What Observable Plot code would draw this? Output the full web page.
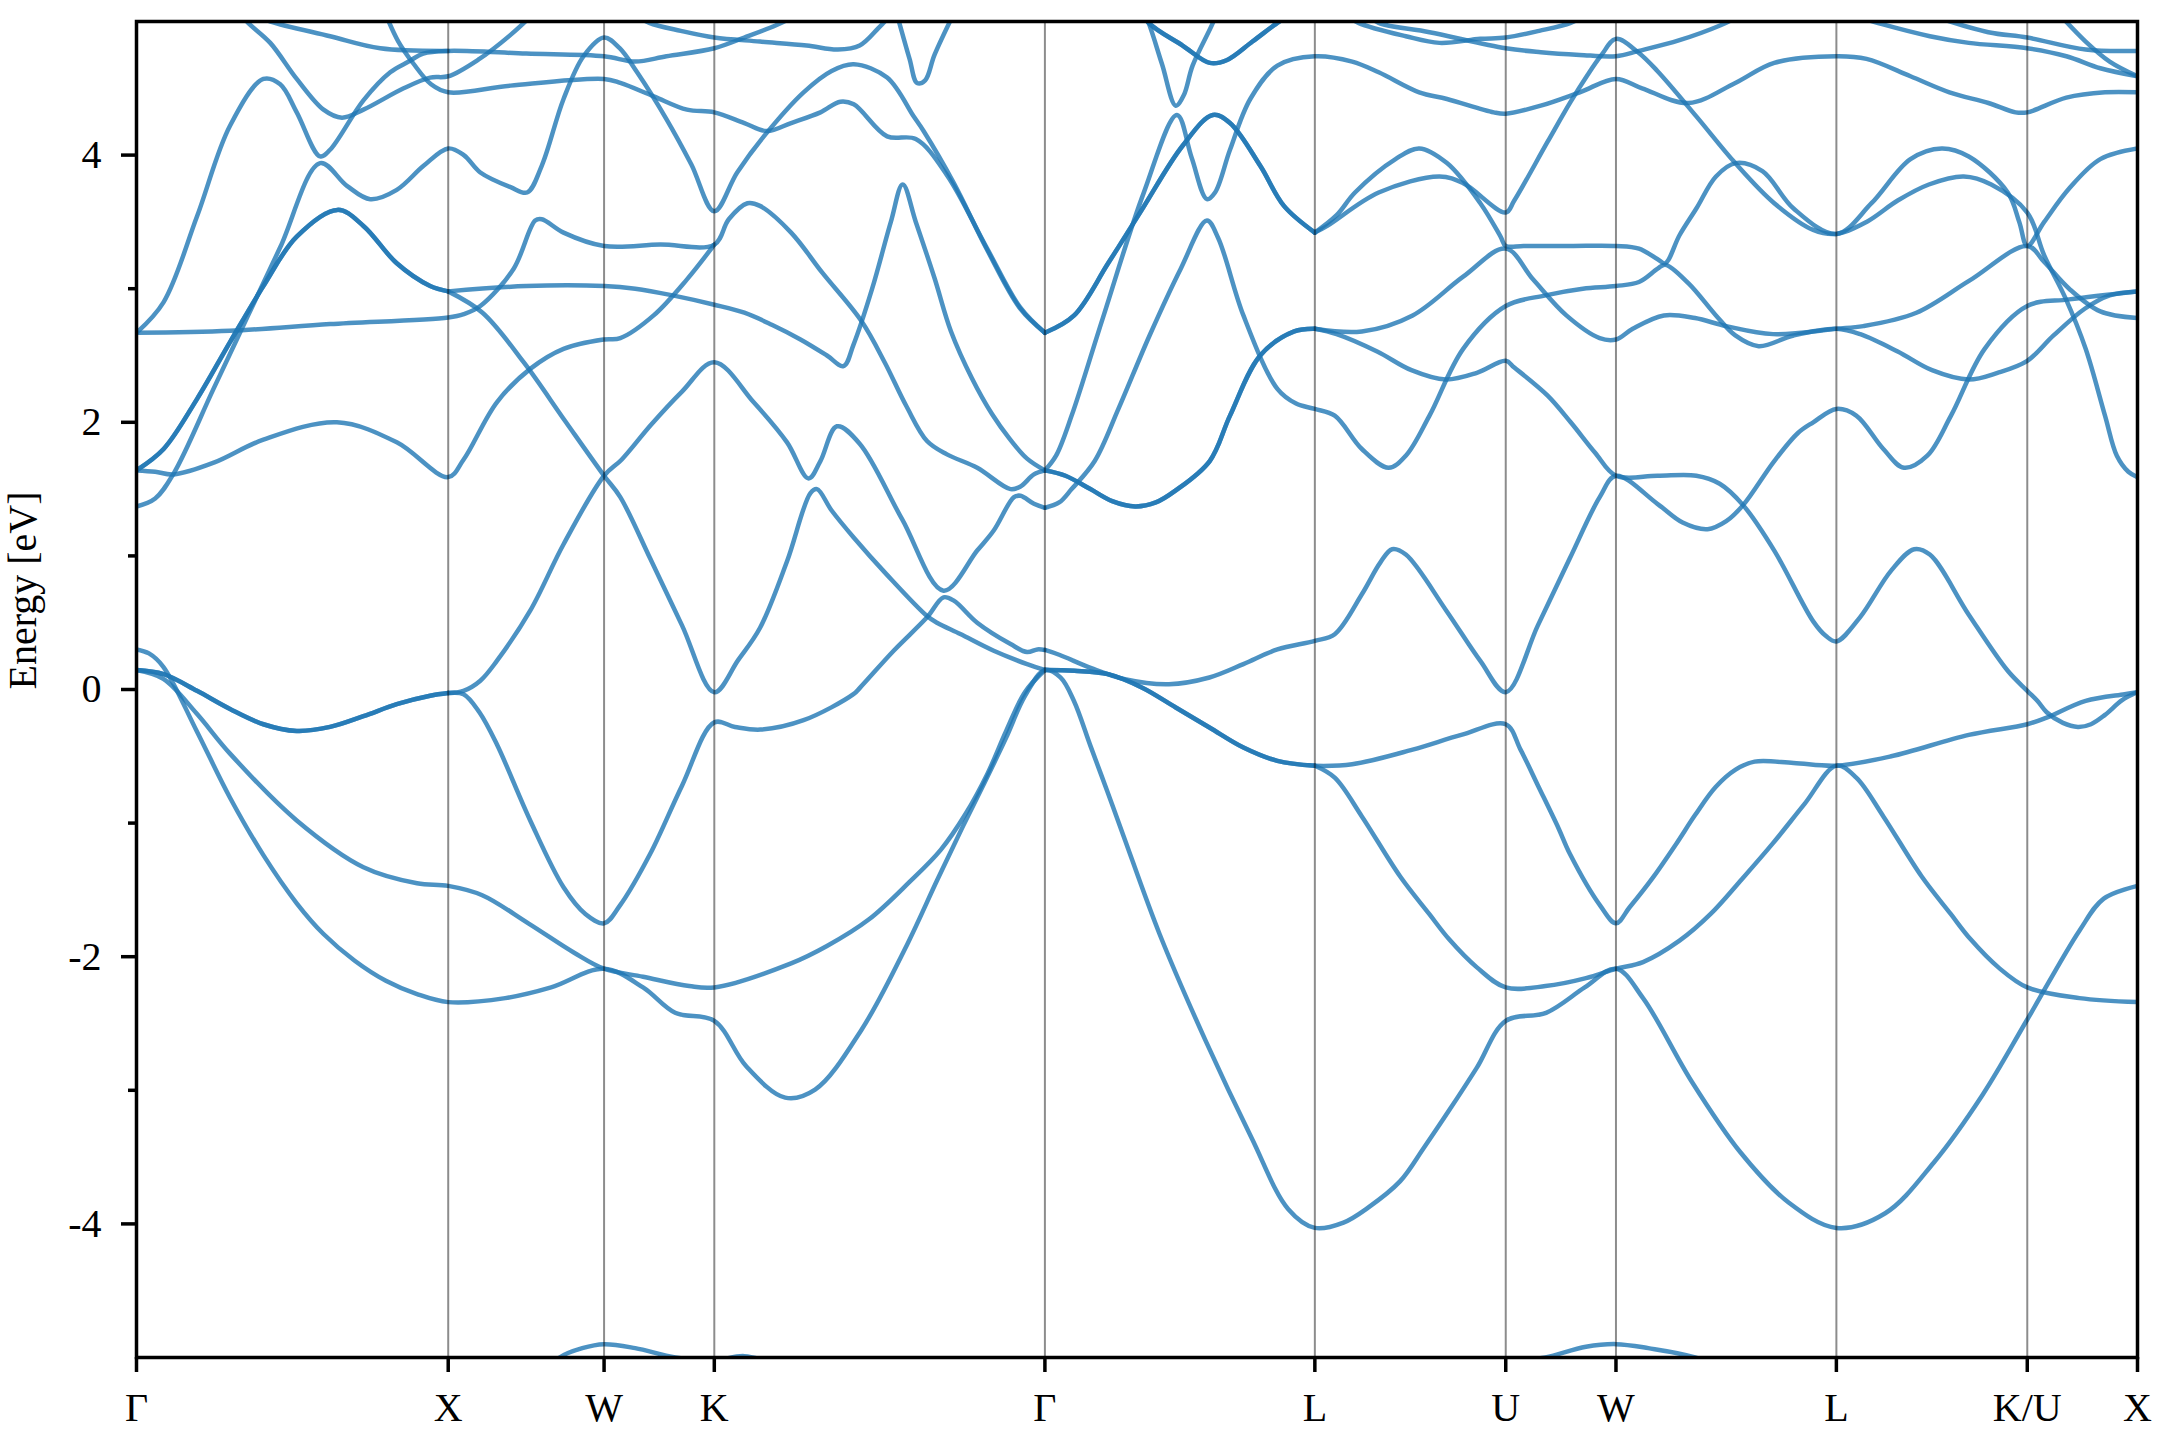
<!DOCTYPE html>
<html><head><meta charset="utf-8">
<script src="https://cdn.jsdelivr.net/npm/d3@7"></script>
<script src="https://cdn.jsdelivr.net/npm/@observablehq/plot@0.6"></script>
<style>
html,body{margin:0;padding:0;background:#fff;}
#chart{width:2160px;height:1440px;}
</style></head><body><div id="chart"></div>
<script>
// High-symmetry path (cumulative k-distance) and labels
const kLabels = ["Γ","X","W","K","Γ","L","U","W","L","K/U","X"];
const kTicks  = [0,1.0,1.5,1.8536,2.9142,3.7802,4.3926,4.7462,5.4533,6.0657,6.4193];
const yMajor = [-4,-2,0,2,4];
const yMinor = [-3,-1,1,3];

// Bands: [k, energy (eV)]
const L1 = [[0,0.30],[0.04,0.27],[0.086,0.17],[0.193,-0.31],[0.30,-0.81],[0.407,-1.24],[0.514,-1.60],[0.60,-1.83],[0.70,-2.03],[0.80,-2.18],[0.9,-2.28],[1.0,-2.34],[1.183,-2.31],[1.33,-2.23],[1.5,-2.09],[1.625,-2.23],[1.728,-2.42],[1.8536,-2.48],[1.956,-2.82],[2.081,-3.055],[2.177,-2.995],[2.325,-2.55],[2.472,-1.91],[2.568,-1.43],[2.65,-1.03],[2.72,-0.70],[2.79,-0.36],[2.85,-0.05],[2.9142,0.146],[2.964,0.09],[3.007,-0.084],[3.06,-0.42],[3.114,-0.76],[3.167,-1.1],[3.282,-1.83],[3.43,-2.63],[3.577,-3.355],[3.695,-3.89],[3.7802,-4.03],[3.872,-3.99],[3.95,-3.88],[4.054,-3.68],[4.13,-3.43],[4.211,-3.15],[4.3,-2.83],[4.3926,-2.48],[4.522,-2.42],[4.646,-2.23],[4.7462,-2.09],[4.833,-2.31],[4.988,-2.93],[5.144,-3.46],[5.3,-3.84],[5.4533,-4.03],[5.61,-3.92],[5.766,-3.54],[5.922,-3.035],[6.0657,-2.47],[6.233,-1.805],[6.311,-1.565],[6.4193,-1.47]];
const L2 = [[0,0.146],[0.086,0.08],[0.193,-0.18],[0.30,-0.48],[0.514,-0.98],[0.728,-1.33],[0.9,-1.45],[1.0,-1.47],[1.109,-1.54],[1.257,-1.75],[1.404,-1.97],[1.5,-2.09],[1.625,-2.15],[1.773,-2.22],[1.8536,-2.23],[2.1,-2.05],[2.215,-1.92],[2.35,-1.72],[2.48,-1.44],[2.58,-1.2],[2.66,-0.93],[2.73,-0.63],[2.79,-0.31],[2.85,-0.02],[2.9142,0.146]];
const dipGX = [[0,0.146],[0.087,0.115],[0.194,-0.01],[0.30,-0.146],[0.407,-0.26],[0.514,-0.31],[0.621,-0.28],[0.728,-0.20],[0.835,-0.11],[0.942,-0.047],[1.0,-0.027]];
const L3a = [[1.0,-0.027],[1.049,-0.01],[1.103,0.066],[1.156,0.214],[1.263,0.59],[1.37,1.087],[1.5,1.60],[1.556,1.72],[1.65,1.98],[1.75,2.23],[1.8536,2.45],[1.98,2.15],[2.087,1.85],[2.156,1.58],[2.194,1.71],[2.247,1.97],[2.32,1.84],[2.456,1.275],[2.589,0.74],[2.697,1.04],[2.75,1.19],[2.815,1.44],[2.836,1.45],[2.879,1.39],[2.9142,1.36]];
const L3b = [[1.0,-0.027],[1.049,-0.035],[1.1,-0.17],[1.156,-0.41],[1.263,-0.98],[1.37,-1.48],[1.44,-1.68],[1.5,-1.75],[1.55,-1.62],[1.648,-1.23],[1.75,-0.72],[1.8536,-0.246],[1.92,-0.28],[2.001,-0.30],[2.14,-0.23],[2.30,-0.035],[2.322,0.016],[2.429,0.29],[2.536,0.54],[2.589,0.69],[2.622,0.665],[2.697,0.50],[2.804,0.34],[2.857,0.28],[2.89,0.30],[2.9142,0.296]];
const Qb = [[1.0,2.98],[1.11,2.82],[1.242,2.45],[1.375,2.01],[1.5,1.60],[1.552,1.44],[1.648,0.98],[1.75,0.48],[1.8536,-0.02],[1.93,0.22],[2.0,0.46],[2.087,0.96],[2.162,1.47],[2.183,1.50],[2.23,1.34],[2.30,1.14],[2.407,0.86],[2.536,0.55],[2.568,0.50],[2.643,0.415],[2.75,0.29],[2.857,0.19],[2.9142,0.146]];
const Tb = [[0,1.64],[0.087,1.80],[0.193,2.17],[0.30,2.60],[0.407,3.02],[0.514,3.39],[0.645,3.59],[0.728,3.47],[0.835,3.19],[0.942,3.02],[1.0,2.98]];
const FX = [[1.0,2.98],[1.25,3.02],[1.5,3.02],[1.6,3.0],[1.72,2.95],[1.8536,2.88],[1.95,2.82],[2.038,2.73],[2.13,2.62],[2.215,2.50],[2.268,2.42],[2.3,2.58],[2.36,3.0],[2.42,3.5],[2.458,3.78],[2.5,3.5],[2.56,3.08],[2.613,2.68],[2.68,2.33],[2.745,2.06],[2.80,1.88],[2.856,1.73],[2.9142,1.64]];
const FL = [[0,2.67],[0.30,2.685],[0.621,2.735],[1.0,2.785],[1.05,2.81],[1.103,2.87],[1.21,3.15],[1.279,3.51],[1.30,3.52],[1.37,3.42],[1.5,3.32],[1.68,3.33],[1.8536,3.33],[1.90,3.52],[1.96,3.64],[2.0,3.62],[2.1,3.42],[2.2,3.12],[2.325,2.76],[2.4,2.45],[2.47,2.12],[2.536,1.86],[2.6,1.76],[2.697,1.66],[2.804,1.50],[2.836,1.52],[2.879,1.61],[2.9142,1.64]];
const NN = [[0,1.64],[0.06,1.63],[0.119,1.61],[0.25,1.70],[0.407,1.87],[0.643,2.0],[0.835,1.85],[1.0,1.59],[1.049,1.72],[1.156,2.15],[1.263,2.40],[1.37,2.55],[1.5,2.62],[1.552,2.63],[1.659,2.80],[1.766,3.07],[1.8536,3.33]];
const HU = [[0,2.67],[0.087,2.90],[0.194,3.54],[0.30,4.22],[0.407,4.57],[0.461,4.53],[0.514,4.32],[0.589,3.99],[0.621,4.04],[0.728,4.41],[0.814,4.62],[0.873,4.70],[0.92,4.76],[1.0,4.78],[1.25,4.76],[1.5,4.74],[1.6,4.70],[1.7,4.74],[1.8536,4.80],[1.95,4.88],[2.05,4.97],[2.12,5.05]];
const SD = [[0,1.37],[0.06,1.43],[0.12,1.62],[0.247,2.25],[0.354,2.78],[0.461,3.31],[0.589,3.94],[0.675,3.77],[0.750,3.67],[0.835,3.74],[0.921,3.92],[1.0,4.05],[1.05,4.0],[1.103,3.87],[1.2,3.76],[1.253,3.72],[1.30,3.92],[1.37,4.42],[1.434,4.74],[1.5,4.88],[1.55,4.80],[1.606,4.62],[1.70,4.27],[1.78,3.93],[1.8536,3.58],[1.927,3.87],[2.023,4.17],[2.14,4.47],[2.23,4.63],[2.301,4.68],[2.408,4.58],[2.493,4.29],[2.525,4.18],[2.622,3.79],[2.729,3.29],[2.835,2.85],[2.9142,2.67]];
const VT = [[0.33,5.08],[0.354,5.0],[0.429,4.84],[0.514,4.57],[0.60,4.34],[0.659,4.28],[0.728,4.34],[0.857,4.50],[0.942,4.58],[1.0,4.59],[1.1,4.72],[1.2,4.9],[1.27,5.05]];
const TD = [[0.80,5.05],[0.84,4.85],[0.89,4.68],[0.945,4.53],[1.0,4.47],[1.2,4.52],[1.5,4.57],[1.552,4.54],[1.659,4.44],[1.766,4.34],[1.8536,4.32],[1.95,4.24],[2.023,4.18],[2.1,4.24],[2.194,4.32],[2.258,4.40],[2.301,4.38],[2.408,4.14],[2.5,4.12],[2.6,3.85],[2.729,3.30],[2.835,2.86],[2.9142,2.67]];
const TOP = [[0.38,5.05],[0.43,5.0],[0.621,4.89],[0.782,4.80],[1.0,4.78]];
const KG6 = [[1.6,5.05],[1.645,4.99],[1.746,4.93],[1.8536,4.88],[2.0,4.85],[2.15,4.82],[2.25,4.79],[2.32,4.82],[2.38,4.95],[2.42,5.05]];
const KGV = [[2.44,5.05],[2.48,4.72],[2.504,4.54],[2.53,4.56],[2.56,4.75],[2.62,5.05]];
const GL1 = [[2.9142,2.67],[3.008,2.80],[3.117,3.19],[3.225,3.59],[3.356,4.07],[3.453,4.30],[3.508,4.24],[3.605,3.92],[3.681,3.62],[3.7802,3.42]];
const GL4 = [[2.9142,1.64],[2.98,1.60],[3.06,1.50],[3.13,1.41],[3.204,1.37],[3.27,1.40],[3.334,1.49],[3.443,1.71],[3.508,2.05],[3.605,2.50],[3.714,2.68],[3.7802,2.70]];
const GL7 = [[2.9142,0.146],[3.009,0.14],[3.117,0.115],[3.225,0.015],[3.334,-0.135],[3.442,-0.284],[3.551,-0.434],[3.66,-0.534],[3.7802,-0.571]];
const GLt1 = [[3.2,5.25],[3.247,4.99],[3.29,4.68],[3.334,4.37],[3.36,4.45],[3.388,4.67],[3.453,4.99],[3.48,5.15]];
const GLt2 = [[3.2,5.15],[3.247,4.99],[3.356,4.82],[3.443,4.69],[3.497,4.71],[3.58,4.85],[3.66,4.99],[3.7,5.05]];
const LU0 = [[2.9142,1.64],[2.95,1.75],[3.0,2.05],[3.10,2.78],[3.23,3.71],[3.338,4.30],[3.385,3.98],[3.434,3.67],[3.46,3.72],[3.508,4.04],[3.573,4.42],[3.66,4.67],[3.7802,4.74],[3.9,4.70],[3.985,4.62],[4.115,4.47],[4.204,4.42],[4.354,4.32],[4.3926,4.31],[4.505,4.37],[4.63,4.47],[4.7462,4.57],[4.83,4.50],[4.979,4.39],[5.129,4.54],[5.254,4.69],[5.4533,4.74],[5.55,4.72],[5.691,4.59],[5.816,4.47],[5.941,4.39],[6.028,4.32],[6.0657,4.32],[6.191,4.43],[6.315,4.47],[6.4193,4.47]];
const GL3 = [[2.9142,1.36],[2.96,1.40],[3.0,1.5],[3.074,1.71],[3.15,2.1],[3.25,2.65],[3.35,3.15],[3.434,3.51],[3.47,3.38],[3.551,2.80],[3.66,2.25],[3.72,2.14],[3.7802,2.10],[3.844,2.05],[3.931,1.80],[4.017,1.66],[4.072,1.75],[4.148,2.05],[4.256,2.55],[4.3926,2.87],[4.52,2.95],[4.64,3.0],[4.7462,3.02],[4.82,3.05],[4.88,3.15],[4.904,3.18],[4.979,3.04],[5.067,2.80],[5.129,2.65],[5.204,2.57],[5.316,2.65],[5.4533,2.70],[5.53,2.66],[5.65,2.53],[5.76,2.39],[5.878,2.32],[5.97,2.37],[6.0657,2.46],[6.15,2.65],[6.25,2.85],[6.33,2.95],[6.4193,2.98]];
const GL6 = [[2.9142,0.296],[2.96,0.26],[3.063,0.16],[3.171,0.077],[3.312,0.04],[3.442,0.09],[3.551,0.19],[3.66,0.30],[3.7802,0.364],[3.844,0.414],[3.931,0.713],[3.99,0.95],[4.028,1.05],[4.072,1.01],[4.202,0.59],[4.311,0.214],[4.3926,-0.02],[4.4957,0.48],[4.5978,0.98],[4.694,1.44],[4.7462,1.60],[4.879,1.39],[4.96,1.25],[5.04,1.20],[5.1,1.26],[5.154,1.38],[5.254,1.71],[5.33,1.92],[5.379,2.0],[5.4533,2.10],[5.517,2.05],[5.604,1.80],[5.67,1.66],[5.745,1.75],[5.821,2.05],[5.929,2.55],[6.0657,2.87],[6.2,2.92],[6.4193,2.98]];
const LU1 = [[3.7802,3.42],[3.85,3.55],[3.909,3.72],[4.039,3.97],[4.115,4.05],[4.204,3.94],[4.311,3.64],[4.376,3.39],[4.3926,3.32],[4.45,3.32],[4.6,3.32],[4.7462,3.32],[4.82,3.30],[4.88,3.22],[4.904,3.19],[4.95,3.40],[5.004,3.60],[5.067,3.84],[5.13,3.94],[5.216,3.88],[5.316,3.60],[5.4533,3.41],[5.566,3.64],[5.691,3.97],[5.791,4.05],[5.878,3.99],[6.003,3.72],[6.04,3.5],[6.0657,3.32],[6.12,3.5],[6.2,3.75],[6.3,3.97],[6.4193,4.05]];
const LU2 = [[3.7802,3.42],[3.82,3.47],[3.985,3.72],[4.18,3.84],[4.256,3.79],[4.3926,3.57],[4.42,3.66],[4.527,4.10],[4.601,4.40],[4.655,4.60],[4.7,4.75],[4.7462,4.87],[4.817,4.77],[4.879,4.63],[5.004,4.29],[5.129,3.94],[5.254,3.64],[5.379,3.44],[5.4533,3.41],[5.55,3.50],[5.65,3.66],[5.75,3.78],[5.862,3.84],[5.95,3.78],[6.0657,3.57],[6.12,3.25],[6.19,2.92],[6.253,2.55],[6.315,2.05],[6.353,1.75],[6.39,1.63],[6.4193,1.59]];
const UWc = [[3.7802,2.70],[3.931,2.68],[4.094,2.80],[4.256,3.09],[4.3926,3.30],[4.48,3.07],[4.587,2.80],[4.694,2.63],[4.7462,2.62],[4.8,2.70],[4.9,2.80],[5.0,2.78],[5.1,2.72],[5.25,2.66],[5.4533,2.70],[5.54,2.72],[5.71,2.82],[5.88,3.06],[6.0657,3.32],[6.12,3.2],[6.2,3.0],[6.3,2.83],[6.4193,2.78]];
const LU3 = [[3.7802,2.70],[3.85,2.66],[3.98,2.53],[4.09,2.39],[4.2,2.32],[4.3,2.37],[4.3926,2.46],[4.42,2.41],[4.527,2.20],[4.601,2.0],[4.68,1.77],[4.7462,1.60],[4.879,1.60],[5.004,1.60],[5.079,1.54],[5.154,1.38],[5.254,1.04],[5.379,0.51],[5.42,0.40],[5.4533,0.36],[5.529,0.54],[5.629,0.89],[5.703,1.05],[5.753,1.01],[5.878,0.56],[6.003,0.14],[6.0657,-0.01],[6.1,-0.09],[6.128,-0.17],[6.18,-0.25],[6.228,-0.28],[6.27,-0.26],[6.315,-0.19],[6.37,-0.08],[6.4193,-0.02]];
const LM = [[3.7802,-0.571],[3.9,-0.56],[4.094,-0.45],[4.25,-0.34],[4.3926,-0.26],[4.44,-0.45],[4.4962,-0.72],[4.5622,-1.04],[4.5982,-1.23],[4.6962,-1.62],[4.7462,-1.75],[4.79,-1.63],[4.864,-1.41],[4.941,-1.15],[5.0,-0.94],[5.066,-0.73],[5.13,-0.6],[5.191,-0.54],[5.316,-0.55],[5.4533,-0.57],[5.629,-0.50],[5.878,-0.34],[6.0657,-0.26],[6.128,-0.21],[6.253,-0.085],[6.378,-0.035],[6.4193,-0.02]];
const LU6 = [[3.7802,-0.571],[3.844,-0.66],[3.931,-0.95],[4.054,-1.40],[4.147,-1.68],[4.211,-1.87],[4.3,-2.08],[4.3926,-2.23],[4.52,-2.22],[4.65,-2.16],[4.7462,-2.09],[4.833,-2.04],[4.95,-1.88],[5.05,-1.68],[5.15,-1.42],[5.25,-1.15],[5.35,-0.86],[5.4533,-0.57],[5.517,-0.66],[5.604,-0.95],[5.727,-1.40],[5.82,-1.68],[5.884,-1.87],[5.973,-2.08],[6.0657,-2.23],[6.233,-2.31],[6.4193,-2.34]];
const LU7 = [[3.88,5.05],[3.92,4.99],[4.072,4.89],[4.18,4.84],[4.311,4.87],[4.3926,4.88],[4.5,4.93],[4.601,4.99],[4.65,5.05]];
const LU8 = [[3.95,5.05],[3.985,4.99],[4.148,4.92],[4.3926,4.80],[4.505,4.77],[4.63,4.75],[4.7462,4.74],[4.82,4.78],[4.95,4.86],[5.08,4.97],[5.15,5.05]];
const LK10 = [[5.5,5.05],[5.6,4.98],[5.753,4.89],[5.878,4.84],[6.0657,4.80],[6.191,4.74],[6.3,4.65],[6.4193,4.59]];
const LK11 = [[5.75,5.05],[5.941,4.92],[6.0657,4.88],[6.253,4.79],[6.4193,4.78]];
const LK12 = [[6.17,5.05],[6.253,4.85],[6.33,4.70],[6.4193,4.59]];
const A1 = [[1.25,-5.25],[1.357,-5.0],[1.43,-4.93],[1.5,-4.9],[1.6,-4.93],[1.729,-5.0],[1.8536,-5.02],[1.95,-4.99],[2.05,-5.05],[2.2,-5.2]];
const A2 = [[4.2,-5.3],[4.3926,-5.05],[4.52,-5.0],[4.65,-4.92],[4.7462,-4.9],[4.85,-4.93],[5.0,-5.0],[5.15,-5.15]];

const singleBands = [L1, L2, L3a, L3b, Qb, FX, FL, NN, HU, SD, VT, TD, TOP, KG6, KGV, GLt1, LU0, GL3, GL6, LU1, LU2, UWc, LU3, LM, LU6, LU7, LU8, LK10, LK11, LK12, A1, A2];
const doubleBands = [dipGX, Tb, GL1, GL4, GL7, GLt2];

const rows = [];
let id = 0;
for (const b of singleBands) { id++; for (const [k, e] of b) rows.push({k, e, id}); }
for (const b of doubleBands) for (let r = 0; r < 2; r++) { id++; for (const [k, e] of b) rows.push({k, e, id}); }

const font = "'Liberation Serif','Times New Roman',serif";
const chart = Plot.plot({
  width: 2160, height: 1440,
  marginLeft: 136, marginRight: 23, marginTop: 21, marginBottom: 83,
  style: {fontFamily: font, fontSize: "40px", color: "black", background: "white"},
  x: {domain: [0, 6.4193], axis: null},
  y: {domain: [-5, 5], axis: null},
  marks: [
    Plot.line(rows, {x: "k", y: "e", z: "id", stroke: "#1f77b4", strokeOpacity: 0.8, strokeWidth: 4.5, curve: "catmull-rom", clip: true}),
    Plot.ruleX(kTicks.slice(1, -1), {stroke: "black", strokeOpacity: 0.45, strokeWidth: 2}),
    Plot.frame({stroke: "black", strokeWidth: 3.5}),
    Plot.axisX({ticks: kTicks, tickFormat: (d) => kLabels[kTicks.indexOf(d)], tickSize: 15, tickPadding: 20, strokeWidth: 3.5, label: null, fontSize: 40}),
    Plot.axisY({ticks: yMajor, tickFormat: d => String(d), tickSize: 15, tickPadding: 20, strokeWidth: 3.5, label: null, fontSize: 40}),
    Plot.axisY({ticks: yMinor, tickFormat: () => "", tickSize: 8, strokeWidth: 3.5, label: null}),
    Plot.text(["Energy [eV]"], {frameAnchor: "left", rotate: -90, dx: -113, text: d => d, fontSize: 40})
  ]
});
document.getElementById("chart").appendChild(chart);
</script></body></html>
